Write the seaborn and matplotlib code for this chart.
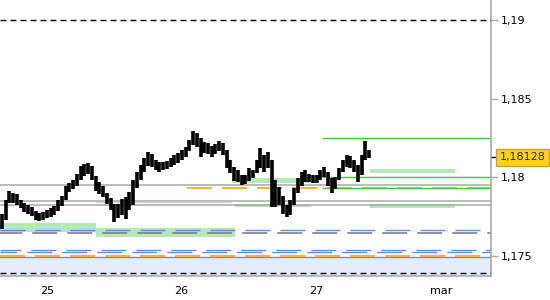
import numpy as np
import matplotlib
matplotlib.use("Agg")
import matplotlib.pyplot as plt
import matplotlib.transforms as mtransforms
import seaborn as sns

# ---------------- data ----------------
bar_start_day = 24.6679          # time (in days of the month) of the first bar
bar_step_minutes = 40            # bar interval

highs = [1.17767, 1.17856, 1.17913, 1.17900, 1.17894, 1.17856, 1.17837, 1.17824, 1.17811, 1.17786,
         1.17773, 1.17780, 1.17792, 1.17805, 1.17818, 1.17856, 1.17881, 1.17945, 1.17964, 1.17983,
         1.18021, 1.18072, 1.18085, 1.18091, 1.18072, 1.18008, 1.17970, 1.17945, 1.17900, 1.17869,
         1.17830, 1.17830, 1.17862, 1.17875, 1.17907, 1.17983, 1.18034, 1.18078, 1.18123, 1.18161,
         1.18148, 1.18110, 1.18097, 1.18097, 1.18104, 1.18123, 1.18142, 1.18155, 1.18174, 1.18193,
         1.18237, 1.18295, 1.18282, 1.18250, 1.18225, 1.18218, 1.18199, 1.18212, 1.18231, 1.18218,
         1.18174, 1.18110, 1.18066, 1.18047, 1.18015, 1.18015, 1.18059, 1.18047, 1.18110, 1.18186,
         1.18142, 1.18161, 1.18110, 1.17983, 1.17939, 1.17881, 1.17824, 1.17856, 1.17932, 1.17996,
         1.18034, 1.18047, 1.18021, 1.18015, 1.18015, 1.18047, 1.18066, 1.18034, 1.17996, 1.18002,
         1.18059, 1.18110, 1.18142, 1.18136, 1.18110, 1.18078, 1.18142, 1.18231, 1.18174]
lows = [1.17672, 1.17729, 1.17837, 1.17837, 1.17824, 1.17805, 1.17780, 1.17767, 1.17754, 1.17729,
        1.17722, 1.17729, 1.17742, 1.17748, 1.17761, 1.17786, 1.17818, 1.17856, 1.17907, 1.17926,
        1.17945, 1.17983, 1.18008, 1.18021, 1.17983, 1.17913, 1.17894, 1.17875, 1.17830, 1.17792,
        1.17716, 1.17742, 1.17761, 1.17735, 1.17792, 1.17824, 1.17932, 1.17983, 1.18034, 1.18072,
        1.18066, 1.18047, 1.18034, 1.18047, 1.18053, 1.18066, 1.18078, 1.18091, 1.18110, 1.18129,
        1.18167, 1.18206, 1.18193, 1.18129, 1.18155, 1.18148, 1.18129, 1.18148, 1.18167, 1.18142,
        1.18059, 1.18028, 1.17977, 1.17970, 1.17951, 1.17958, 1.17977, 1.17996, 1.18028, 1.18059,
        1.18034, 1.18059, 1.17811, 1.17811, 1.17824, 1.17767, 1.17748, 1.17761, 1.17824, 1.17900,
        1.17945, 1.17970, 1.17970, 1.17964, 1.17964, 1.17983, 1.18002, 1.17945, 1.17900, 1.17926,
        1.17983, 1.18034, 1.18066, 1.18059, 1.18034, 1.17970, 1.18015, 1.18110, 1.18123]
last_price = 1.18128
last_price_label = "1,18128"

x_ticks = [25, 26, 27, 27.9266]
x_tick_labels = ["25", "26", "27", "mar"]
y_ticks = [1.175, 1.18, 1.185, 1.19]
y_tick_labels = ["1,175", "1,18", "1,185", "1,19"]
x_range = [24.6538, 28.2936]
y_range = [1.17373, 1.19127]

# horizontal levels
black_dashed_levels = [1.19, 1.17390]
gray_solid_levels = [1.17949, 1.17850, 1.17824]
blue_dashed_levels = [1.17665, 1.17536, 1.17523]
gray_dashed_levels = [1.17644]
orange_dashed_full = [1.17499]
orange_dashed_partial = (1.17935, 26.04)          # level, start day
green_levels = [1.18248, 1.18000, 1.17930]
green_levels_start = 27.0415
support_zone_top = 1.17494

# green zones: (x start, x end, lower price, upper price)
zone_x0 = [24.6538, 25.3655, 25.3655, 26.3740, 26.3962, 27.3959, 27.3959]
zone_x1 = [25.3655, 26.3962, 26.3740, 26.9523, 26.9597, 28.0260, 28.0260]
zone_lo = [1.17653, 1.17624, 1.17838, 1.17966, 1.17809, 1.18030, 1.17807]
zone_hi = [1.17710, 1.17675, 1.17846, 1.17996, 1.17830, 1.18053, 1.17830]

# ---------------- style ----------------
sns.set_style("white")
plt.rcParams["font.family"] = ["DejaVu Sans"]
plt.rcParams["lines.scale_dashes"] = False

fig = plt.figure(figsize=(5.5, 3.0), dpi=100)
ax = fig.add_axes([0.0, 0.08, 491 / 550, 0.92])
ax.set_xlim(*x_range)
ax.set_ylim(*y_range)

blue = "#5F8FF0"
orange = "#FFB030"
gray_d = "#808080"
gray_s = "#A8A8A8"
green = "#3CCB3C"
zone_green = "#B4E8B4"

# support shading
ax.axhspan(y_range[0] - 0.01, support_zone_top, color="#E6ECFC", zorder=0, lw=0)
ax.axhline(support_zone_top, color=blue, lw=1.0, zorder=2)

# green zones
for x0, x1, lo, hi in zip(zone_x0, zone_x1, zone_lo, zone_hi):
    ax.fill_between([x0, x1], lo, hi, color=zone_green, lw=0, zorder=1)

for lv in black_dashed_levels:
    ax.axhline(lv, color="black", lw=1.0, linestyle=(0, (4.3, 2.9)), zorder=3)
for lv in gray_solid_levels:
    ax.axhline(lv, color=gray_s, lw=1.1, zorder=2)
for i, lv in enumerate(blue_dashed_levels):
    ax.axhline(lv, color=blue, lw=1.0, linestyle=(3 * i, (18, 7.2)), zorder=2)
for lv in gray_dashed_levels:
    ax.axhline(lv, color=gray_d, lw=1.2, linestyle=(2, (18, 7.2)), zorder=2)
for lv in orange_dashed_full:
    ax.axhline(lv, color=orange, lw=1.6, linestyle=(0, (18, 7.2)), zorder=2)
ax.hlines(orange_dashed_partial[0], orange_dashed_partial[1], x_range[1], color=orange,
          lw=1.4, linestyles=[(0, (18, 7.2))], zorder=2)
ax.hlines(green_levels, green_levels_start, x_range[1], color=green, lw=1.0, zorder=2)

# price bars
times = bar_start_day + np.arange(len(highs)) * bar_step_minutes / 1440.0
ax.vlines(times, lows, highs, color="black", lw=2.6, zorder=5)

# axes styling
for s in ["left", "top"]:
    ax.spines[s].set_visible(False)
for s in ["right", "bottom"]:
    ax.spines[s].set_color("#AAAAAA")
    ax.spines[s].set_linewidth(1.2)

ax.yaxis.tick_right()
ax.set_yticks(y_ticks, y_tick_labels)
ax.set_xticks(x_ticks, x_tick_labels)
ax.tick_params(axis="y", length=5, width=1, color="#AAAAAA", pad=2, labelsize=8, labelcolor="black")
ax.tick_params(axis="x", length=4, width=1, color="#AAAAAA", pad=3, labelsize=8, labelcolor="black")
ax.grid(False)

# current price label
trans = mtransforms.blended_transform_factory(ax.transAxes, ax.transData)
ax.plot([1.0, 1.012], [last_price, last_price], color="black", lw=1, transform=trans, clip_on=False)
ax.text(1.017, last_price, last_price_label, transform=trans, va="center", ha="left", fontsize=8,
        bbox=dict(boxstyle="square,pad=0.3", fc="#FFD21A", ec="#C9A227", lw=1), zorder=10)

fig.savefig("out.png", dpi=100)
